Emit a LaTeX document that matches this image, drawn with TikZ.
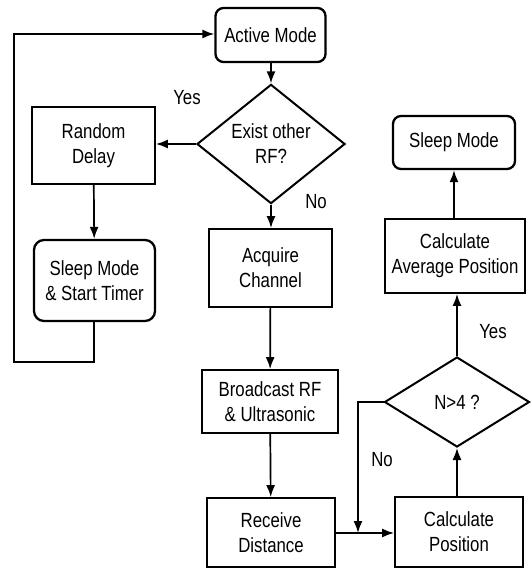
\documentclass[tikz,border=0pt]{standalone}
\usepackage{fontspec}
\setmainfont{Liberation Sans}[FakeStretch=0.82]
\usetikzlibrary{shapes.geometric,arrows.meta}
\begin{document}
\begin{tikzpicture}[x=1pt,y=-1pt,
  every node/.style={font=\fontsize{20.5}{25}\selectfont, align=center},
  box/.style={draw, line width=1.8pt, inner sep=0pt},
  rbox/.style={draw, line width=2.3pt, rounded corners=8pt, inner sep=0pt},
  dia/.style={draw, diamond, line width=2pt, inner sep=0pt},
  lbl/.style={inner sep=0pt},
  conn/.style={line width=1.7pt, -{Latex[length=12pt,width=9pt]}},
  plain/.style={line width=1.7pt}]
\useasboundingbox (0,0) rectangle (531,577);
\node[rbox, minimum width=110pt, minimum height=54pt] (active) at (270.5,35) {Active Mode};
\node[dia, minimum width=148pt, minimum height=88pt] (exist) at (271,144) {Exist other\\RF?};
\node[box, minimum width=123pt, minimum height=77pt] (delay) at (93.5,145.5) {Random\\Delay};
\node[rbox, rounded corners=10pt, minimum width=121pt, minimum height=81pt] (timer) at (94.5,280.5) {Sleep Mode\\\& Start Timer};
\node[box, minimum width=123pt, minimum height=78pt] (acq) at (270.5,268) {Acquire\\Channel};
\node[box, minimum width=136pt, minimum height=63pt] (bcast) at (270,401.5) {Broadcast RF\\\& Ultrasonic};
\node[box, minimum width=128pt, minimum height=69pt] (recv) at (271,532.5) {Receive\\Distance};
\node[box, minimum width=128pt, minimum height=70pt] (calc) at (459,532) {Calculate\\Position};
\node[dia, minimum width=145pt, minimum height=90pt] (nfour) at (457,402) {N>4 ?};
\node[box, minimum width=140pt, minimum height=74pt] (avg) at (455,256) {Calculate\\Average Position};
\node[rbox, minimum width=122pt, minimum height=53pt] (sleep) at (454,142.5) {Sleep Mode};
\node[lbl] (yes1) at (187,98) {Yes};
\node[lbl] (no1) at (316,202) {No};
\node[lbl] (no2) at (382,460) {No};
\node[lbl] (yes2) at (493,332) {Yes};
\coordinate (l1) at (94,362);
\coordinate (l2) at (14,362);
\coordinate (l3) at (14,34);
\coordinate (n1) at (358,402);
\coordinate (n2) at (358,533);
\draw[conn] (active.south -| exist.north) -- (exist.north);
\draw[conn] (exist.west) -- (delay.east |- exist.west);
\draw[conn] (delay) -- (timer);
\draw[conn] (timer.south -| l1) -- (l1) -- (l2) -- (l3) -- (active.west |- l3);
\draw[conn] (exist.south) -- (acq.north -| exist.south);
\draw[conn] (acq) -- (bcast);
\draw[conn] (bcast) -- (recv);
\draw[conn] (recv.east |- n2) -- (calc.west |- n2);
\draw[conn] (calc.north -| nfour.south) -- (nfour.south);
\draw[conn] (nfour.north) -- (avg.south -| nfour.north);
\draw[conn] (avg.north -| sleep.south) -- (sleep.south);
\draw[conn] (nfour.west) -- (n1) -- (n2);
\end{tikzpicture}
\end{document}
